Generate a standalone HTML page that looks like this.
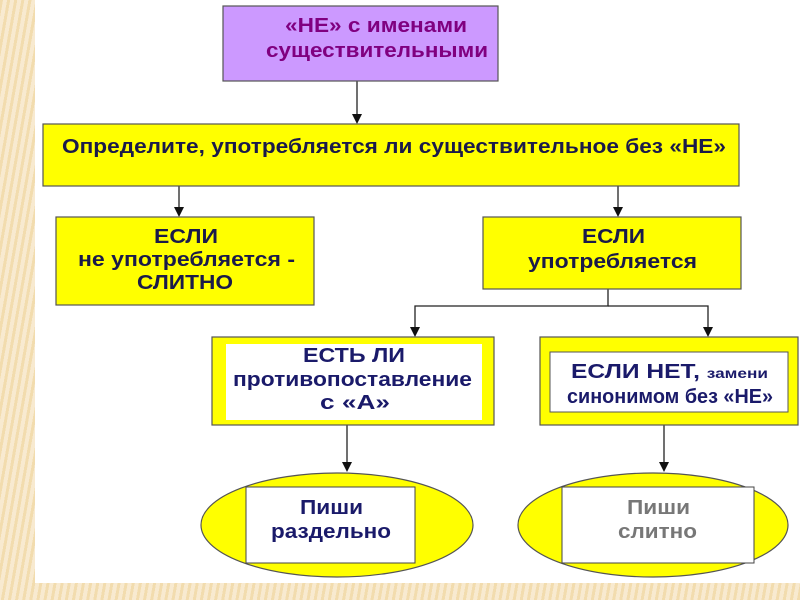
<!DOCTYPE html>
<html><head><meta charset="utf-8"><style>
body{margin:0;width:800px;height:600px;overflow:hidden;background:repeating-linear-gradient(100deg,#f2dcae 0 3px,#f8ead0 3px 7px);font-family:"Liberation Sans",sans-serif;}
svg{position:absolute;left:0;top:0}
text{font-family:"Liberation Sans",sans-serif;font-weight:bold;font-size:20px}
</style></head><body>
<svg width="800" height="600">
<rect x="35" y="0" width="765" height="583" fill="#fff"/>
<g stroke="#222" stroke-width="1.3" fill="none">
<line x1="357" y1="81" x2="357" y2="115"/>
<line x1="179" y1="186" x2="179" y2="208"/>
<line x1="618" y1="186" x2="618" y2="208"/>
<polyline points="608,289 608,306 415,306 415,328"/>
<polyline points="608,306 708,306 708,328"/>
<line x1="347" y1="425" x2="347" y2="463"/>
<line x1="664" y1="425" x2="664" y2="463"/>
</g>
<g fill="#111">
<path d="M352,114 L362,114 L357,124 Z"/>
<path d="M174,207 L184,207 L179,217 Z"/>
<path d="M613,207 L623,207 L618,217 Z"/>
<path d="M410,327 L420,327 L415,337 Z"/>
<path d="M703,327 L713,327 L708,337 Z"/>
<path d="M342,462 L352,462 L347,472 Z"/>
<path d="M659,462 L669,462 L664,472 Z"/>
</g>
<rect x="223" y="6" width="275" height="75" fill="#cc99ff" stroke="#555" stroke-width="1.2"/>
<text x="285" y="32" textLength="182" lengthAdjust="spacingAndGlyphs" fill="#800080">«НЕ» с именами</text>
<text x="266" y="57" textLength="222" lengthAdjust="spacingAndGlyphs" fill="#800080">существительными</text>
<rect x="43" y="124" width="696" height="62" fill="#ffff00" stroke="#555" stroke-width="1.2"/>
<text x="62" y="153" textLength="664" lengthAdjust="spacingAndGlyphs" fill="#1a1a4a">Определите, употребляется ли существительное без «НЕ»</text>
<rect x="56" y="217" width="258" height="88" fill="#ffff00" stroke="#555" stroke-width="1.2"/>
<text x="154" y="243" textLength="64" lengthAdjust="spacingAndGlyphs" fill="#1a1a4a">ЕСЛИ</text>
<text x="78" y="266" textLength="217" lengthAdjust="spacingAndGlyphs" fill="#1a1a4a">не употребляется -</text>
<text x="137" y="289" textLength="96" lengthAdjust="spacingAndGlyphs" fill="#1a1a4a">СЛИТНО</text>
<rect x="483" y="217" width="258" height="72" fill="#ffff00" stroke="#555" stroke-width="1.2"/>
<text x="582" y="243" textLength="63" lengthAdjust="spacingAndGlyphs" fill="#1a1a4a">ЕСЛИ</text>
<text x="528" y="268" textLength="169" lengthAdjust="spacingAndGlyphs" fill="#1a1a4a">употребляется</text>
<rect x="212" y="337" width="282" height="88" fill="#ffff00" stroke="#555" stroke-width="1.2"/>
<rect x="226" y="344" width="256" height="76" fill="#fff"/>
<text x="303" y="362" textLength="102" lengthAdjust="spacingAndGlyphs" fill="#1a1a6a">ЕСТЬ ЛИ</text>
<text x="233" y="386" textLength="239" lengthAdjust="spacingAndGlyphs" fill="#1a1a6a">противопоставление</text>
<text x="320" y="409" textLength="70" lengthAdjust="spacingAndGlyphs" fill="#1a1a6a">с  «А»</text>
<rect x="540" y="337" width="258" height="88" fill="#ffff00" stroke="#555" stroke-width="1.2"/>
<rect x="550" y="352" width="238" height="60" fill="#fff" stroke="#555" stroke-width="1"/>
<text x="571" y="378" textLength="197" lengthAdjust="spacingAndGlyphs" fill="#1a1a6a">ЕСЛИ НЕТ, <tspan font-size="14">замени</tspan></text>
<text x="567" y="403" textLength="206" lengthAdjust="spacingAndGlyphs" font-size="15" fill="#1a1a6a">синонимом без <tspan font-size="20">«НЕ»</tspan></text>
<ellipse cx="337" cy="525" rx="136" ry="52" fill="#ffff00" stroke="#555" stroke-width="1.2"/>
<rect x="246" y="487" width="169" height="76" fill="#fff" stroke="#444" stroke-width="1"/>
<text x="300" y="514" textLength="63" lengthAdjust="spacingAndGlyphs" fill="#1a1a6a">Пиши</text>
<text x="271" y="538" textLength="120" lengthAdjust="spacingAndGlyphs" fill="#1a1a6a">раздельно</text>
<ellipse cx="653" cy="525" rx="135" ry="52" fill="#ffff00" stroke="#555" stroke-width="1.2"/>
<rect x="562" y="487" width="192" height="76" fill="#fff" stroke="#444" stroke-width="1"/>
<text x="627" y="514" textLength="63" lengthAdjust="spacingAndGlyphs" fill="#777">Пиши</text>
<text x="618" y="538" textLength="79" lengthAdjust="spacingAndGlyphs" fill="#777">слитно</text>
</svg>
</body></html>
